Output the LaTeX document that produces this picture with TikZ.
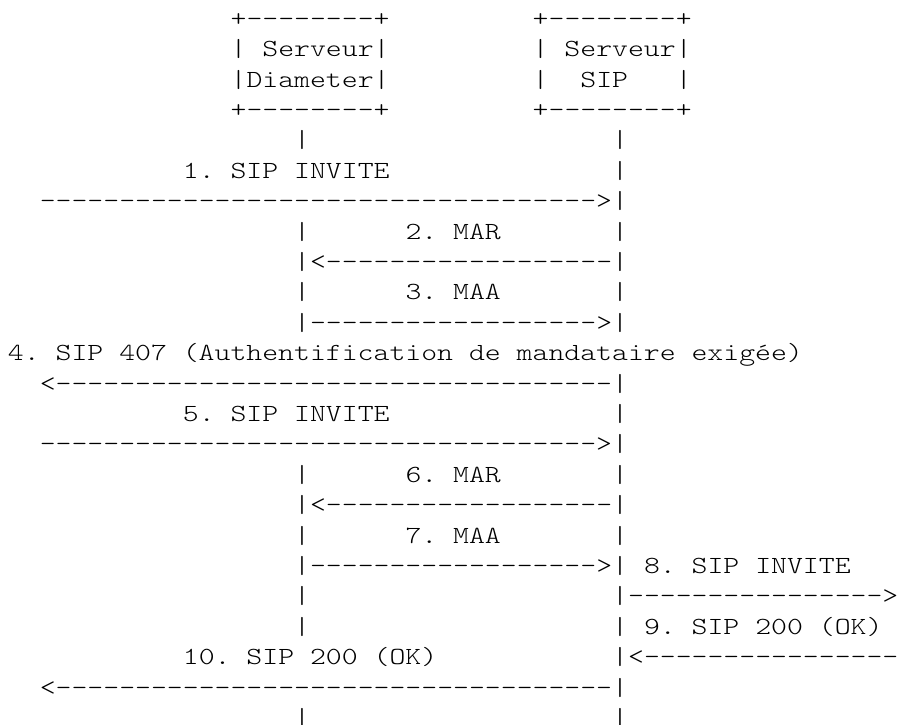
\documentclass[tikz,border=0pt]{standalone}
\usepackage{fontspec}
\setmonofont{lmmonolt10-regular.otf}[FakeStretch=1.231]
\begin{document}
\begin{tikzpicture}[x=15.9pt,y=-30.4pt,
  txt/.style={anchor=base west,inner sep=0pt,outer sep=0pt,
    font=\ttfamily\frenchspacing\fontsize{24.6}{30}\selectfont}]
\path[use as bounding box] (-8pt,26.3pt) rectangle (892pt,-697.7pt);
\clip (-8pt,26.3pt) rectangle (892pt,-697.7pt);
% boxes
\node[txt] (b1t) at (14,0) {+--------+};
\node[txt] (b2t) at (33,0) {+--------+};
\node[txt] (b1a) at (14,1) {| Serveur|};
\node[txt] (b2a) at (33,1) {| Serveur|};
\node[txt] (b1b) at (14,2) {|Diameter|};
\node[txt] (b2l) at (33,2) {|};
\node[txt] (b2b) at (36,2) {SIP};
\node[txt] (b2r) at (42,2) {|};
\node[txt] (b1d) at (14,3) {+--------+};
\node[txt] (b2d) at (33,3) {+--------+};
% row 4
\node[txt] (r4a) at (18,4) {|};
\node[txt] (r4b) at (38,4) {|};
% 1
\node[txt] (r5a) at (11,5) {1. SIP INVITE};
\node[txt] (r5b) at (38,5) {|};
\node[txt] (r6) at (2,6) {----------------------------------->|};
% 2
\node[txt] (r7a) at (18,7) {|};
\node[txt] (r7b) at (25,7) {2. MAR};
\node[txt] (r7c) at (38,7) {|};
\node[txt] (r8) at (18,8) {|<------------------|};
% 3
\node[txt] (r9a) at (18,9) {|};
\node[txt] (r9b) at (25,9) {3. MAA};
\node[txt] (r9c) at (38,9) {|};
\node[txt] (r10) at (18,10) {|------------------>|};
% 4
\node[txt] (r11) at (0,11) {4. SIP 407 (Authentification de mandataire exigée)};
\node[txt] (r12) at (2,12) {<-----------------------------------|};
% 5
\node[txt] (r13a) at (11,13) {5. SIP INVITE};
\node[txt] (r13b) at (38,13) {|};
\node[txt] (r14) at (2,14) {----------------------------------->|};
% 6
\node[txt] (r15a) at (18,15) {|};
\node[txt] (r15b) at (25,15) {6. MAR};
\node[txt] (r15c) at (38,15) {|};
\node[txt] (r16) at (18,16) {|<------------------|};
% 7
\node[txt] (r17a) at (18,17) {|};
\node[txt] (r17b) at (25,17) {7. MAA};
\node[txt] (r17c) at (38,17) {|};
\node[txt] (r18a) at (18,18) {|------------------>|};
\node[txt] (r18b) at (40,18) {8. SIP INVITE};
% 8 arrow
\node[txt] (r19a) at (18,19) {|};
\node[txt] (r19b) at (38,19) {|---------------->};
% 9
\node[txt] (r20a) at (18,20) {|};
\node[txt] (r20b) at (38,20) {|};
\node[txt] (r20c) at (40,20) {9. SIP 200 (OK)};
% 10
\node[txt] (r21a) at (11,21) {10. SIP 200 (OK)};
\node[txt] (r21b) at (38,21) {|<----------------};
\node[txt] (r22) at (2,22) {<-----------------------------------|};
\node[txt] (r23a) at (18,23) {|};
\node[txt] (r23b) at (38,23) {|};
\end{tikzpicture}
\end{document}
